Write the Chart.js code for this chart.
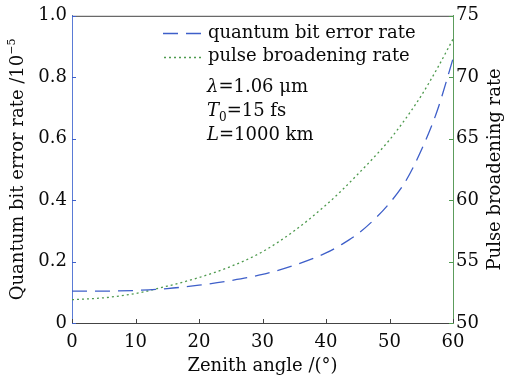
<!DOCTYPE html>
<html>
<head>
<meta charset="utf-8">
<script src="https://cdn.jsdelivr.net/npm/chart.js@4"></script>
<style>
  html, body { margin: 0; padding: 0; background: #fff; }
  #wrap { width: 505px; height: 379px; }
</style>
</head>
<body>
<div id="wrap"><canvas id="chart" width="505" height="379"></canvas></div>
<script>
// zenith angle (deg)
const angles = [0, 5, 10, 15, 20, 25, 30, 35, 40, 42.5, 45, 47.5, 50, 52.5, 55, 57.5, 60];
// quantum bit error rate, units of 1e-5 (left axis)
const qber = [0.104, 0.104, 0.106, 0.112, 0.123, 0.138, 0.158, 0.188, 0.228, 0.256, 0.29, 0.335, 0.39, 0.46, 0.562, 0.69, 0.86];
// pulse broadening rate (right axis)
const broadening = [51.9, 52.05, 52.4, 53.0, 53.7, 54.6, 55.8, 57.5, 59.6, 60.8, 62.1, 63.45, 64.9, 66.6, 68.5, 70.7, 73.1];

const xTicks = [0, 10, 20, 30, 40, 50, 60];
const leftTicks = [0, 0.2, 0.4, 0.6, 0.8, 1.0];
const rightTicks = [50, 55, 60, 65, 70, 75];

const FONT = "'DejaVu Serif', 'Liberation Serif', serif";
const BLUE = '#3e5fc9';
const GREEN = '#4e9a4e';
const AXIS = '#444';
const INK = '#0a0a0a';

const toPoints = (xs, ys) => xs.map((x, i) => ({ x: x, y: ys[i] }));

// ticks pointing inward, legend, notes and axis titles
const decorations = {
  id: 'decorations',
  afterDraw(chart) {
    const { ctx, chartArea: a, scales } = chart;
    ctx.save();

    // top frame line
    ctx.strokeStyle = AXIS;
    ctx.lineWidth = 1;
    ctx.beginPath();
    ctx.moveTo(a.left, a.top + 0.5);
    ctx.lineTo(a.right, a.top + 0.5);
    ctx.stroke();

    // inward ticks
    const tickLen = 4;
    ctx.strokeStyle = AXIS;
    xTicks.forEach(v => {
      const px = Math.round(scales.x.getPixelForValue(v)) + 0.5;
      ctx.beginPath();
      ctx.moveTo(px, a.bottom);
      ctx.lineTo(px, a.bottom - tickLen);
      ctx.stroke();
    });
    ctx.strokeStyle = BLUE;
    leftTicks.forEach(v => {
      const py = Math.round(scales.y.getPixelForValue(v)) + 0.5;
      ctx.beginPath();
      ctx.moveTo(a.left, py);
      ctx.lineTo(a.left + tickLen, py);
      ctx.stroke();
    });
    ctx.strokeStyle = GREEN;
    rightTicks.forEach(v => {
      const py = Math.round(scales.y2.getPixelForValue(v)) + 0.5;
      ctx.beginPath();
      ctx.moveTo(a.right, py);
      ctx.lineTo(a.right - tickLen, py);
      ctx.stroke();
    });

    // legend
    ctx.lineWidth = 1.3;
    ctx.strokeStyle = BLUE;
    ctx.setLineDash([15, 8]);
    ctx.beginPath();
    ctx.moveTo(163, 33.5);
    ctx.lineTo(204, 33.5);
    ctx.stroke();
    ctx.strokeStyle = GREEN;
    ctx.setLineDash([2, 3]);
    ctx.beginPath();
    ctx.moveTo(164, 57.5);
    ctx.lineTo(204, 57.5);
    ctx.stroke();
    ctx.setLineDash([]);

    ctx.fillStyle = INK;
    ctx.textBaseline = 'alphabetic';
    ctx.textAlign = 'left';
    ctx.font = '18px ' + FONT;
    ctx.fillText('quantum bit error rate', 208, 38);
    ctx.fillText('pulse broadening rate', 208, 61);

    // parameter notes
    let x = 207;
    ctx.font = 'italic 18px ' + FONT;
    ctx.fillText('λ', x, 92);
    x += ctx.measureText('λ').width;
    ctx.font = '18px ' + FONT;
    ctx.fillText('=1.06 μm', x, 92);

    x = 207;
    ctx.font = 'italic 18px ' + FONT;
    ctx.fillText('T', x, 116);
    x += ctx.measureText('T').width;
    ctx.font = '12px ' + FONT;
    ctx.fillText('0', x, 121);
    x += ctx.measureText('0').width;
    ctx.font = '18px ' + FONT;
    ctx.fillText('=15 fs', x, 116);

    x = 207;
    ctx.font = 'italic 18px ' + FONT;
    ctx.fillText('L', x, 140);
    x += ctx.measureText('L').width;
    ctx.font = '18px ' + FONT;
    ctx.fillText('=1000 km', x, 140);

    // x title
    ctx.textAlign = 'center';
    ctx.font = '18px ' + FONT;
    ctx.fillText('Zenith angle /(°)', (a.left + a.right) / 2, 371);

    const midY = (a.top + a.bottom) / 2;

    // left title with superscript
    ctx.save();
    ctx.translate(23, midY);
    ctx.rotate(-Math.PI / 2);
    ctx.font = '18px ' + FONT;
    const main = 'Quantum bit error rate /10';
    const wMain = ctx.measureText(main).width;
    ctx.font = '11px ' + FONT;
    const sup = '−5';
    const wSup = ctx.measureText(sup).width;
    const start = -(wMain + wSup) / 2;
    ctx.textAlign = 'left';
    ctx.font = '18px ' + FONT;
    ctx.fillText(main, start, 0);
    ctx.font = '11px ' + FONT;
    ctx.fillText(sup, start + wMain, -8);
    ctx.restore();

    // right title
    ctx.save();
    ctx.translate(500, midY);
    ctx.rotate(-Math.PI / 2);
    ctx.font = '18px ' + FONT;
    ctx.textAlign = 'center';
    ctx.fillText('Pulse broadening rate', 0, 0);
    ctx.restore();

    ctx.restore();
  }
};

new Chart(document.getElementById('chart'), {
  type: 'line',
  data: {
    datasets: [
      {
        label: 'quantum bit error rate',
        data: toPoints(angles, qber),
        yAxisID: 'y',
        borderColor: BLUE,
        borderWidth: 1.3,
        borderDash: [15, 8],
        pointRadius: 0,
        cubicInterpolationMode: 'monotone',
        fill: false
      },
      {
        label: 'pulse broadening rate',
        data: toPoints(angles, broadening),
        yAxisID: 'y2',
        borderColor: GREEN,
        borderWidth: 1.3,
        borderDash: [2, 3],
        pointRadius: 0,
        cubicInterpolationMode: 'monotone',
        fill: false
      }
    ]
  },
  options: {
    responsive: false,
    animation: false,
    devicePixelRatio: 1,
    layout: { padding: { top: 12, left: 0, right: 0, bottom: 0 } },
    plugins: {
      legend: { display: false },
      tooltip: { enabled: false }
    },
    scales: {
      x: {
        type: 'linear',
        min: 0,
        max: 60,
        afterFit: s => { s.height = 56; },
        afterBuildTicks: s => { s.ticks = xTicks.map(v => ({ value: v })); },
        grid: { display: false, drawTicks: false },
        border: { display: true, color: AXIS, width: 1 },
        ticks: { padding: 9, color: INK, font: { family: FONT, size: 18 } }
      },
      y: {
        position: 'left',
        min: 0,
        max: 1,
        afterFit: s => { s.width = 72; },
        afterBuildTicks: s => { s.ticks = leftTicks.map(v => ({ value: v })); },
        grid: { display: false, drawTicks: false },
        border: { display: true, color: '#5a7bd6', width: 1 },
        ticks: {
          padding: 5,
          color: INK,
          font: { family: FONT, size: 18 },
          callback: v => (v === 0 ? '0' : v.toFixed(1))
        }
      },
      y2: {
        position: 'right',
        min: 50,
        max: 75,
        afterFit: s => { s.width = 52; },
        afterBuildTicks: s => { s.ticks = rightTicks.map(v => ({ value: v })); },
        grid: { display: false, drawTicks: false },
        border: { display: true, color: '#5c9c5c', width: 1 },
        ticks: { padding: 3, color: INK, font: { family: FONT, size: 18 } }
      }
    }
  },
  plugins: [decorations]
});
</script>
</body>
</html>
